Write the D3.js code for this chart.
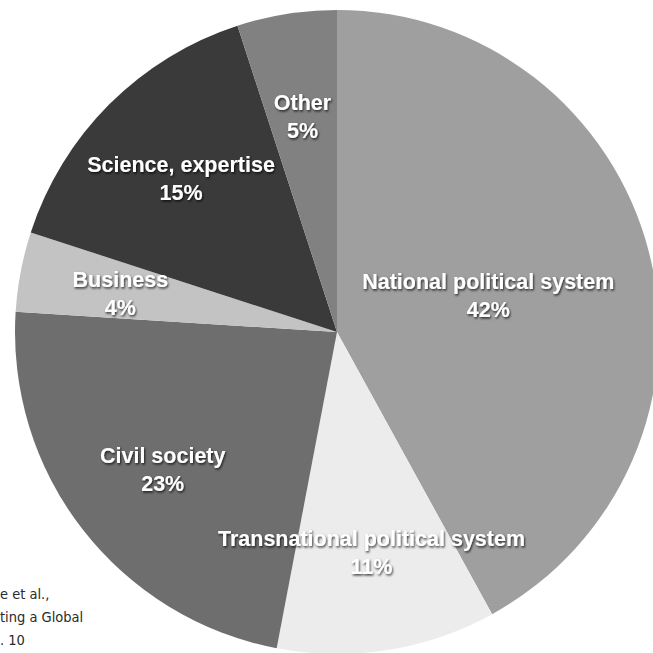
<!DOCTYPE html>
<html>
<head>
<meta charset="utf-8">
<script src="https://cdn.jsdelivr.net/npm/d3@7/dist/d3.min.js"></script>
<style>
  html, body { margin: 0; padding: 0; background: #ffffff; }
  svg { display: block; }
</style>
</head>
<body>
<script>
// Share of actors, by category
const categories = ["National political system", "Transnational political system", "Civil society", "Business", "Science, expertise", "Other"];
const shares = [42, 11, 23, 4, 15, 5];
const shareLabels = ["42%", "11%", "23%", "4%", "15%", "5%"];
const sliceColors = ["#9f9f9f", "#ececec", "#6e6e6e", "#c3c3c3", "#3a3a3a", "#818181"];
const sourceLines = ["e et al.,", "ting a Global", ". 10"];

const W = 653, H = 653;
const cx = 337, cy = 332, R = 322;

const svg = d3.select("body").append("svg")
  .attr("width", W).attr("height", H)
  .attr("viewBox", `0 0 ${W} ${H}`);

const defs = svg.append("defs");
const shadow = defs.append("filter").attr("id", "txtShadow")
  .attr("x", "-10%").attr("y", "-30%").attr("width", "120%").attr("height", "160%");
shadow.append("feDropShadow")
  .attr("dx", 1).attr("dy", 1.5).attr("stdDeviation", 1.1)
  .attr("flood-color", "#000").attr("flood-opacity", 0.75);

const data = categories.map((c, i) => ({ name: c, value: shares[i], label: shareLabels[i], color: sliceColors[i] }));

const pie = d3.pie().sort(null).value(d => d.value);
const arcs = pie(data);
const arc = d3.arc().innerRadius(0).outerRadius(R);

const g = svg.append("g").attr("transform", `translate(${cx},${cy})`);

g.selectAll("path.slice")
  .data(arcs)
  .join("path")
  .attr("class", "slice")
  .attr("d", arc)
  .attr("fill", d => d.data.color);

// labels sit along each slice's bisector; the large first slice keeps its label closer in
const labelArc = (d, i) => {
  const r = i === 0 ? R * 0.485 : R * 0.685;
  return d3.arc().innerRadius(r).outerRadius(r).centroid(d);
};

const labels = g.selectAll("g.label")
  .data(arcs)
  .join("g")
  .attr("class", "label")
  .attr("transform", (d, i) => `translate(${labelArc(d, i)})`)
  .attr("filter", "url(#txtShadow)")
  .style("font-family", "'Liberation Sans', Arial, Helvetica, sans-serif")
  .style("font-weight", "bold")
  .style("font-size", "21.5px")
  .attr("fill", "#ffffff")
  .attr("text-anchor", "middle");

labels.append("text").attr("y", -4).text(d => d.data.name);
labels.append("text").attr("y", 24).text(d => d.data.label);

// source note at lower left
svg.append("g")
  .style("font-family", "'Liberation Sans Narrow', 'DejaVu Sans Condensed', 'Liberation Sans', sans-serif")
  .style("font-size", "14.5px")
  .attr("fill", "#2a2a2a")
  .selectAll("text")
  .data(sourceLines)
  .join("text")
  .attr("x", 0)
  .attr("y", (d, i) => 599 + i * 23)
  .text(d => d);
</script>
</body>
</html>
